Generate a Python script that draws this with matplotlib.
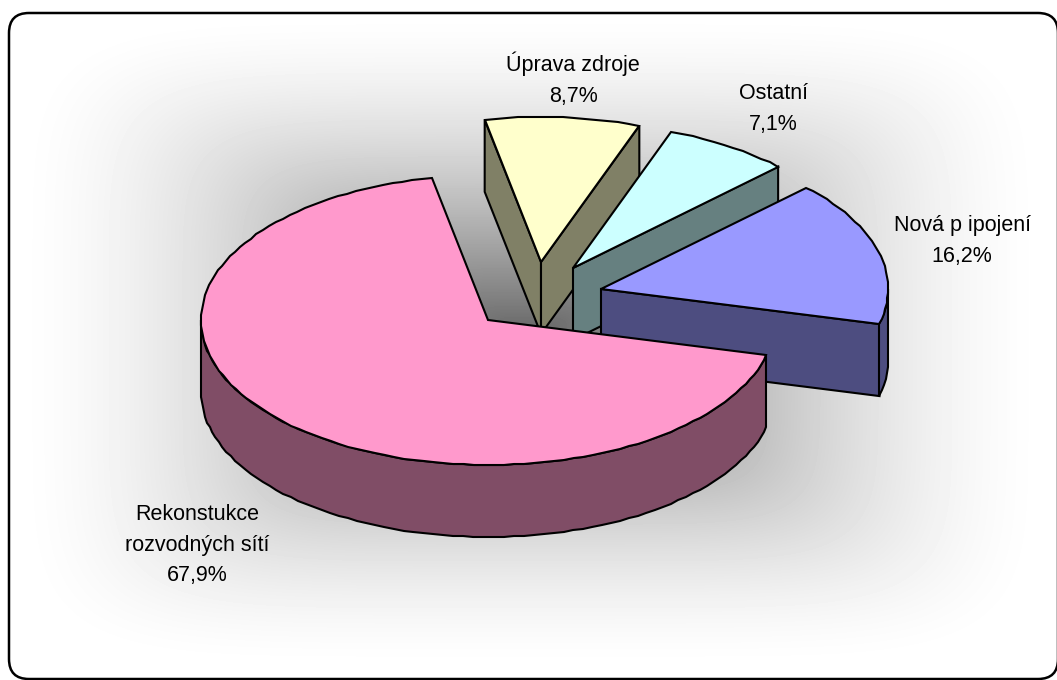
import numpy as np
import matplotlib
matplotlib.use('Agg')
import matplotlib.pyplot as plt
from matplotlib.patches import Polygon, FancyBboxPatch

# data (clockwise from the start angle)
labels = ['Rekonstukce\nrozvodných sítí', 'Úprava zdroje', 'Ostatní', 'Nová p ipojení']
shares = [67.9, 8.7, 7.1, 16.2]
pct_text = ['67,9%', '8,7%', '7,1%', '16,2%']
top_colors = ['#FF99CC', '#FFFFCC', '#CCFFFF', '#9999FF']
side_colors = ['#804D66', '#808066', '#668080', '#4D4D80']

# pie geometry in pixels
start_angle = 104.0
cx, cy = 488, 320
rx, ry = 287, 145
depth = 72
explode = [(0, 0), (53, -58), (85, -52), (113, -31)]
label_pos = [(197, 545), (573, 79), (773, 109), (962, 241)]
draw_order = [1, 2, 3, 0]

plt.rcParams['font.family'] = ['Liberation Sans', 'DejaVu Sans']
fig = plt.figure(figsize=(10.57, 6.8), dpi=100)
ax = fig.add_axes([0, 0, 1, 1])
ax.set_xlim(0, 1057)
ax.set_ylim(680, 0)
ax.axis('off')

# background: rectangular gradient inside a rounded frame
frame = FancyBboxPatch((29, 33), 1009, 626, boxstyle='round,pad=20,rounding_size=20',
                       fc='none', ec='black', lw=1.8, zorder=5)
ax.add_patch(frame)
xx, yy = np.meshgrid(np.arange(9, 1058), np.arange(13, 679))
t = ((np.abs(xx - 530) / 520) ** 6 + (np.abs(yy - 340) / 330) ** 6) ** (1 / 6)
grad = 1 - 0.62 * np.clip(1 - t, 0, 1) ** 1.6
im = ax.imshow(grad, cmap='gray', vmin=0, vmax=1, extent=(9, 1058, 679, 13),
               aspect='auto', zorder=0)
im.set_clip_path(frame)
ax.set_xlim(0, 1057)
ax.set_ylim(680, 0)


def pt(a, ox, oy):
    r = np.radians(a)
    return ox + rx * np.sin(r), oy - ry * np.cos(r)


def arc(a1, a2, ox, oy):
    n = max(int((a2 - a1) / 2), 2)
    aa = np.linspace(a1, a2, n)
    x, y = pt(aa, ox, oy)
    return np.round(x), np.round(y)


def face(xs, ys, color, z):
    ax.add_patch(Polygon(np.column_stack([xs, ys]), closed=True, fc=color, ec='black',
                         lw=1.5, joinstyle='miter', zorder=z))


total = sum(shares)
edges = [start_angle]
for s in shares:
    edges.append(edges[-1] + 360 * s / total)

for rank, i in enumerate(draw_order):
    a1, a2 = edges[i], edges[i + 1]
    if a1 >= 360:
        a1, a2 = a1 - 360, a2 - 360
    ox, oy = cx + explode[i][0], cy + explode[i][1]
    z = 1 + rank
    # cut walls: only those that turn towards the viewer
    for a, normal in ((a1, a1 - 90), (a2, a2 + 90)):
        if np.cos(np.radians(normal)) < 0:
            ex, ey = pt(a, ox, oy)
            face([ox, ex, ex, ox], [oy, ey, ey + depth, oy + depth], side_colors[i], z)
    # outer wall on the near half of the ellipse
    lo, hi = max(a1, 90), min(a2, 270)
    if hi > lo:
        x, y = arc(lo, hi, ox, oy)
        face(np.r_[x, x[::-1]], np.r_[y, y[::-1] + depth], side_colors[i], z)
    # top face
    x, y = arc(a1, a2, ox, oy)
    face(np.r_[ox, x], np.r_[oy, y], top_colors[i], z)

for lab, pct, (lx, ly) in zip(labels, pct_text, label_pos):
    ax.text(lx, ly, lab + '\n' + pct, ha='center', va='center', fontsize=15.5,
            linespacing=1.6, color='black', zorder=6)

fig.savefig('out.png', dpi=100)
